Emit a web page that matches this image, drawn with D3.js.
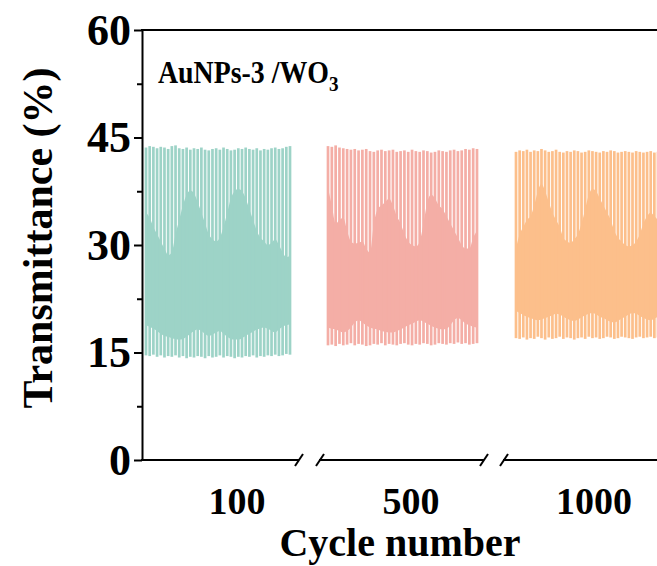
<!DOCTYPE html>
<html>
<head>
<meta charset="utf-8">
<script src="https://d3js.org/d3.v7.min.js"></script>
<style>
  body { margin: 0; background: #fff; }
  text { font-family: "Times New Roman", "Liberation Serif", serif; font-weight: bold; fill: #000; }
</style>
</head>
<body>
<script>

// ---- data ----
var yTicks = [0, 15, 30, 45, 60];
var yMinor = [7.5, 22.5, 37.5, 52.5];
var groupLabels = ["100", "500", "1000"];
var groupColors = ["#9dd3c7", "#f4aea6", "#fcbf8b"];

// cycle 100
var peak100 = [43.6,43.8,43.7,43.5,43.7,43.6,43.4,43.8,43.9,43.5,43.4,43.6,43.3,43.5,43.4,43.6,43.3,43.2,43.4,43.5,
               43.3,43.6,43.4,43.2,43.3,43.5,43.4,43.6,43.4,43.3,43.5,43.2,43.4,43.3,43.5,43.6,43.4,43.5,43.7,43.8];
var valley100 = [14.6,14.5,14.7,14.4,14.6,14.3,14.5,14.4,14.6,14.3,14.5,14.2,14.4,14.3,14.5,14.4,14.2,14.5,14.3,14.4,
                 14.6,14.3,14.5,14.4,14.2,14.4,14.3,14.5,14.4,14.6,14.3,14.5,14.4,14.6,14.5,14.7,14.5,14.6,14.8,14.7];
var upper100 = [34.5,33.8,32.5,31.5,30.5,29.5,28.6,29.0,31.5,33.5,35.5,37.0,37.6,37.2,36.0,34.5,33.0,31.5,30.8,30.5,
                31.0,32.5,34.5,36.5,37.5,37.8,37.5,36.5,35.0,33.5,32.0,31.0,30.5,30.0,30.3,30.8,30.0,29.0,28.3,28.5];
var lower100 = [18.8,18.6,18.3,18.0,17.6,17.3,17.2,17.0,16.9,16.8,16.9,17.2,17.6,18.0,18.2,18.0,17.6,17.3,17.5,17.8,
                18.0,17.6,17.2,16.9,16.8,16.8,17.0,17.3,17.6,17.9,18.2,18.4,18.5,18.3,18.0,17.8,18.2,18.6,18.8,18.9];

// cycle 500
var peak500 = [43.8,43.7,43.9,43.6,43.5,43.4,43.3,43.4,43.2,43.3,43.4,43.1,43.0,43.2,43.3,43.1,43.2,43.3,43.0,43.1,
               43.2,43.0,43.3,43.1,43.0,43.2,43.1,42.9,43.0,43.2,43.1,43.0,43.2,43.3,43.1,43.2,43.4,43.3,43.5,43.4];
var valley500 = [16.0,16.1,15.9,16.2,16.0,16.1,16.3,16.0,16.2,16.1,15.9,16.0,16.2,16.1,16.3,16.0,16.2,16.1,16.0,16.2,
                 16.3,16.1,16.0,16.2,16.1,16.3,16.2,16.0,16.1,16.3,16.2,16.1,16.3,16.2,16.4,16.2,16.3,16.1,16.2,16.3];
var upper500 = [38.0,35.5,33.0,33.5,33.8,32.0,30.5,30.2,30.3,30.5,29.5,28.9,33.0,35.0,35.5,36.0,36.5,35.5,34.0,33.0,
                31.5,30.5,30.0,29.8,30.5,33.0,36.0,37.0,36.5,35.5,35.0,34.0,33.0,32.0,31.0,30.0,29.5,29.5,31.0,32.0];
var lower500 = [18.5,18.3,18.2,18.0,17.8,18.0,18.5,19.2,19.5,19.2,18.8,18.5,18.3,18.2,18.0,17.9,17.8,17.8,18.0,18.2,
                18.5,18.8,19.0,19.3,19.5,19.3,19.0,18.7,18.5,18.3,18.2,18.3,18.8,19.5,19.8,19.5,19.0,18.8,18.6,18.5];

// cycle 1000
var peak1000 = [43.0,43.2,43.1,43.3,43.0,43.2,43.1,43.4,43.2,43.0,43.1,43.3,43.0,42.9,43.1,43.0,43.2,43.1,42.9,43.0,
                43.2,43.1,43.0,42.9,43.1,43.0,43.2,43.1,42.9,43.0,43.1,43.0,42.9,43.1,43.0,42.9,43.0,43.1,42.9,43.0];
var valley1000 = [17.0,16.9,17.1,16.8,17.0,16.9,17.2,17.0,16.8,17.1,16.9,17.0,17.2,16.9,17.1,17.0,16.8,17.0,17.1,16.9,
                  17.2,17.0,17.1,16.9,17.0,17.2,17.1,16.9,17.0,17.2,17.1,17.0,16.9,17.1,17.2,17.0,17.1,17.2,17.0,17.1];
var upper1000 = [29.5,31.5,32.5,33.5,34.0,35.5,37.5,38.5,37.5,36.0,34.5,33.5,32.5,31.0,30.5,30.3,30.8,31.5,33.0,35.0,
                 37.0,37.8,37.5,36.5,35.5,34.5,33.5,32.0,31.0,30.5,30.0,29.8,30.0,30.5,31.5,33.0,34.0,34.5,34.0,33.5];
var lower1000 = [20.8,20.5,20.2,20.0,19.8,19.6,19.5,19.6,19.8,20.0,20.2,20.4,20.3,20.0,19.7,19.5,19.4,19.6,19.9,20.2,
                 20.4,20.5,20.3,20.0,19.8,19.5,19.3,19.2,19.4,19.7,20.0,20.3,20.5,20.4,20.1,19.8,19.6,19.5,19.7,20.0];

var groups = [
  { peak: peak100,  valley: valley100,  upper: upper100,  lower: lower100 },
  { peak: peak500,  valley: valley500,  upper: upper500,  lower: lower500 },
  { peak: peak1000, valley: valley1000, upper: upper1000, lower: lower1000 }
];

// ---- layout ----
var W = 657, H = 566;
var axisX = 142, topY = 30, botY = 460;
var segPx = [[146, 290], [328, 477], [516, 658]];
var axisSegs = [[axisX, 299], [320, 484], [504, W]];
var breaks = [299, 320, 484, 504];
var labelX = [237, 411, 594];

var svg = d3.select("body").append("svg")
  .attr("width", W).attr("height", H);

var y = d3.scaleLinear().domain([0, 60]).range([botY, topY]);

svg.append("clipPath").attr("id", "plot")
  .append("rect").attr("x", axisX).attr("y", topY).attr("width", W - axisX).attr("height", botY - topY);

var plot = svg.append("g").attr("clip-path", "url(#plot)");

groups.forEach(function(g, k) {
  var n = g.peak.length;
  var x = d3.scaleLinear().domain([0, n - 1]).range(segPx[k]);
  var idx = d3.range(n);

  var area = d3.area()
    .x(function(i) { return x(i); })
    .y0(function(i) { return y(g.lower[i]); })
    .y1(function(i) { return y(g.upper[i]); })
    .curve(d3.curveMonotoneX);

  plot.append("path").datum(idx)
    .attr("d", area)
    .attr("fill", groupColors[k]);

  plot.selectAll(".c" + k).data(idx).enter().append("line")
    .attr("class", "c" + k)
    .attr("x1", function(i) { return x(i); })
    .attr("x2", function(i) { return x(i); })
    .attr("y1", function(i) { return y(g.valley[i]); })
    .attr("y2", function(i) { return y(g.peak[i]); })
    .attr("stroke", groupColors[k])
    .attr("stroke-width", 2.7);
});

// y axis
var yAxis = svg.append("g").attr("transform", "translate(" + axisX + ",0)")
  .call(d3.axisLeft(y).tickValues(yTicks).tickSize(8).tickSizeOuter(0).tickPadding(3));
yAxis.select(".domain").attr("stroke-width", 2);
yAxis.selectAll(".tick line").attr("stroke-width", 2);
yAxis.selectAll(".tick text").attr("font-size", 44).style("font-family", "'Times New Roman','Liberation Serif',serif").style("font-weight", "bold");

var yMinorAxis = svg.append("g").attr("transform", "translate(" + axisX + ",0)")
  .call(d3.axisLeft(y).tickValues(yMinor).tickSize(5).tickFormat(""));
yMinorAxis.select(".domain").remove();
yMinorAxis.selectAll(".tick line").attr("stroke-width", 2);

// top frame line
svg.append("line")
  .attr("x1", axisX - 1).attr("x2", W)
  .attr("y1", y(60)).attr("y2", y(60))
  .attr("stroke", "#000").attr("stroke-width", 2);

// broken x axis
svg.selectAll(".xseg").data(axisSegs).enter().append("line")
  .attr("x1", function(d) { return d[0] - 1; })
  .attr("x2", function(d) { return d[1]; })
  .attr("y1", botY).attr("y2", botY)
  .attr("stroke", "#000").attr("stroke-width", 2);

svg.selectAll(".brk").data(breaks).enter().append("line")
  .attr("x1", function(d) { return d - 4; })
  .attr("x2", function(d) { return d + 4; })
  .attr("y1", botY + 6).attr("y2", botY - 6)
  .attr("stroke", "#000").attr("stroke-width", 2);

// group labels
svg.selectAll(".glab").data(groupLabels).enter().append("text")
  .attr("x", function(d, i) { return labelX[i]; })
  .attr("y", 514)
  .attr("text-anchor", "middle")
  .attr("font-size", 38)
  .text(function(d) { return d; });

// axis titles
svg.append("text")
  .attr("x", 400).attr("y", 556)
  .attr("text-anchor", "middle")
  .attr("font-size", 40)
  .text("Cycle number");

svg.append("text")
  .attr("transform", "translate(52,238) rotate(-90)")
  .attr("text-anchor", "middle")
  .attr("font-size", 42)
  .text("Transmittance (%)");

// sample label (slightly condensed like the original)
var t = svg.append("text").attr("transform", "translate(158,83) scale(0.87,1)").attr("font-size", 32);
t.append("tspan").text("AuNPs-3 /WO");
t.append("tspan").attr("font-size", 22).attr("dy", 8).text("3");

</script>
</body>
</html>
